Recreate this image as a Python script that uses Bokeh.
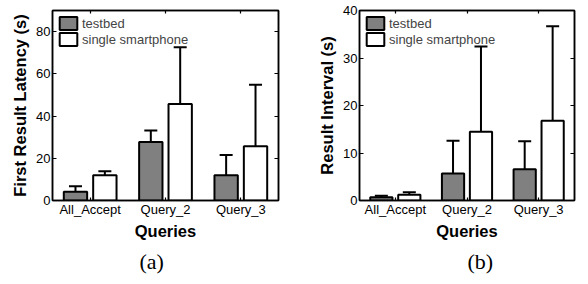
from bokeh.plotting import figure
from bokeh.models import (ColumnDataSource, Whisker, TeeHead, LinearAxis, FixedTicker,
                          Range1d, Title, Legend, LegendItem)
from bokeh.layouts import row
from bokeh.embed import file_html
from bokeh.resources import INLINE

queries = ["All_Accept", "Query_2", "Query_3"]

# (a) First result latency (s)
lat_testbed = [4.2, 27.7, 12.0]
lat_testbed_lo = [1.6, 22.2, 2.0]
lat_testbed_hi = [6.8, 33.1, 21.6]
lat_phone = [12.0, 45.7, 25.7]
lat_phone_lo = [4.6, 34.2, 12.9]
lat_phone_hi = [13.9, 72.6, 54.8]
lat_yticks = [0, 20, 40, 60, 80]

# (b) Result interval (s)
int_testbed = [0.7, 5.7, 6.6]
int_testbed_lo = [0.5, 2.4, 2.7]
int_testbed_hi = [1.0, 12.6, 12.5]
int_phone = [1.2, 14.5, 16.8]
int_phone_lo = [0.7, 5.2, 8.0]
int_phone_hi = [1.75, 32.4, 36.7]
int_yticks = [0, 10, 20, 30, 40]

FONT = "Liberation Sans"
GRAY = "#808080"


def make_chart(tb, tb_lo, tb_hi, ph, ph_lo, ph_hi, yticks, ymax, ylabel, caption,
               b_left, b_right, b_top, b_bottom, cap_offset):
    p = figure(width=294, height=284, output_backend="svg", toolbar_location=None,
               x_range=Range1d(0.5, 3.5), y_range=Range1d(0, ymax),
               min_border_left=b_left, min_border_right=b_right,
               min_border_top=b_top, min_border_bottom=b_bottom)
    p.grid.visible = False
    p.outline_line_color = "black"
    p.outline_line_width = 1.5
    p.background_fill_color = "white"
    p.border_fill_color = "white"

    xs = list(range(1, len(queries) + 1))
    off = 0.195
    w = 0.31
    src_tb = ColumnDataSource(dict(x=[x - off for x in xs], top=tb, lo=tb_lo, hi=tb_hi))
    src_ph = ColumnDataSource(dict(x=[x + off for x in xs], top=ph, lo=ph_lo, hi=ph_hi))

    r_tb = p.vbar(x="x", top="top", bottom=0, width=w, source=src_tb,
                  fill_color=GRAY, line_color="black", line_width=2)
    r_ph = p.vbar(x="x", top="top", bottom=0, width=w, source=src_ph,
                  fill_color="white", line_color="black", line_width=2)

    for src in (src_tb, src_ph):
        wk = Whisker(base="x", lower="lo", upper="hi", source=src, dimension="height",
                     line_color="black", line_width=2,
                     upper_head=TeeHead(size=13, line_width=2, line_color="black"),
                     lower_head=TeeHead(size=13, line_width=2, line_color="black"))
        p.add_layout(wk)

    # axes
    p.xaxis.ticker = FixedTicker(ticks=xs)
    p.xaxis.major_label_overrides = {x: q for x, q in zip(xs, queries)}
    p.yaxis.ticker = FixedTicker(ticks=yticks)
    for ax in (p.xaxis[0], p.yaxis[0]):
        ax.minor_tick_line_color = None
        ax.major_tick_in = 4
        ax.major_tick_out = 0
        ax.major_tick_line_width = 1.2
        ax.axis_line_width = 1.5
        ax.major_label_text_font = FONT
        ax.major_label_text_font_size = "13px"
        ax.major_label_text_color = "black"
        ax.axis_label_text_font = FONT
        ax.axis_label_text_font_size = "16.5px"
        ax.axis_label_text_font_style = "bold"
        ax.axis_label_text_color = "black"
    p.xaxis.major_tick_in = 3
    p.xaxis.axis_label = "Queries"
    p.xaxis.major_label_standoff = 1
    p.xaxis.axis_label_standoff = 2
    p.yaxis.axis_label = ylabel
    p.yaxis.major_label_standoff = 2
    p.yaxis.axis_label_standoff = 4

    # mirrored ticks (box on)
    right = LinearAxis(ticker=FixedTicker(ticks=yticks),
                       major_label_overrides={t: "" for t in yticks},
                       major_tick_in=4, major_tick_out=0, minor_tick_line_color=None,
                       major_tick_line_width=1.2, axis_line_width=1.5,
                       major_label_standoff=0)
    p.add_layout(right, "right")
    top = LinearAxis(ticker=FixedTicker(ticks=xs),
                     major_label_overrides={t: "" for t in xs},
                     major_tick_in=3, major_tick_out=0, minor_tick_line_color=None,
                     major_tick_line_width=1.2, axis_line_width=1.5,
                     major_label_standoff=0)
    p.add_layout(top, "above")

    legend = Legend(items=[LegendItem(label="testbed", renderers=[r_tb]),
                           LegendItem(label="single smartphone", renderers=[r_ph])],
                    location="top_left", glyph_width=22, glyph_height=16, label_height=14,
                    label_width=10, spacing=0, padding=0, margin=0, label_standoff=3,
                    label_text_font=FONT, label_text_font_size="13px",
                    label_text_line_height=1.0,
                    border_line_color=None, background_fill_alpha=0)
    legend.margin = 5
    p.add_layout(legend)

    t = Title(text=caption, align="left", offset=cap_offset, text_font="Liberation Serif",
              text_font_size="22px", text_font_style="normal", text_color="black",
              standoff=8)
    p.add_layout(t, "below")
    return p


pa = make_chart(lat_testbed, lat_testbed_lo, lat_testbed_hi, lat_phone, lat_phone_lo,
                lat_phone_hi, lat_yticks, 90, "First Result Latency (s)", "(a)",
                52, 16, 9, 84, 87)
pb = make_chart(int_testbed, int_testbed_lo, int_testbed_hi, int_phone, int_phone_lo,
                int_phone_hi, int_yticks, 40, "Result Interval (s)", "(b)",
                65, 14, 10, 84, 108)

layout = row(pa, pb, spacing=0)
open("out.html", "w").write(file_html(layout, INLINE))
